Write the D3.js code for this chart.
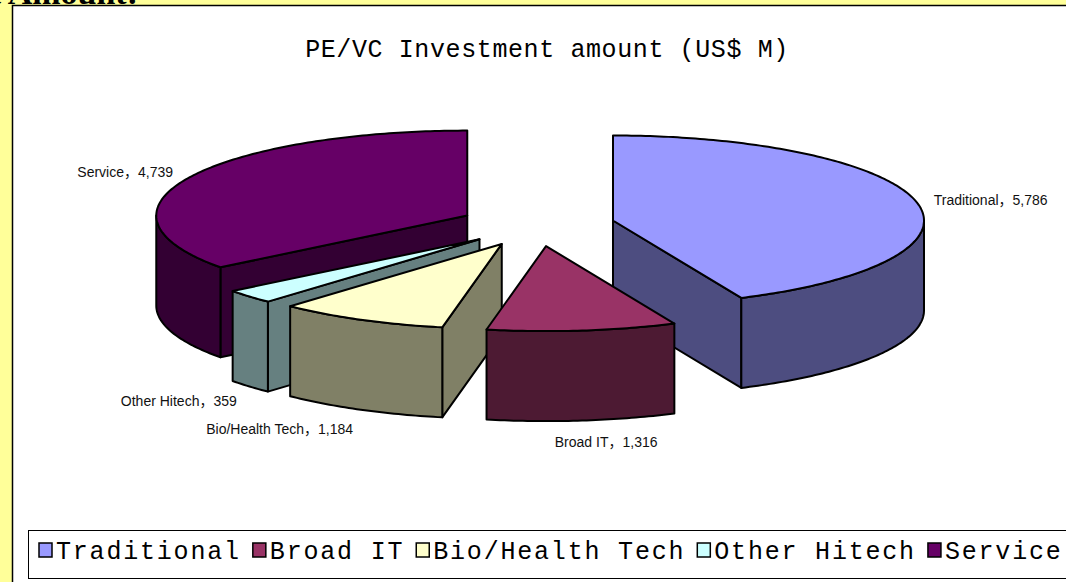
<!DOCTYPE html>
<html>
<head>
<meta charset="utf-8">
<script src="https://cdn.jsdelivr.net/npm/d3@7"></script>
<style>
  html, body { margin: 0; padding: 0; background: #FFFF99; overflow: hidden; }
  svg { display: block; }
</style>
</head>
<body>
<div id="chart"></div>
<script>
// Chart data
const categories = ["Traditional", "Broad IT", "Bio/Health Tech", "Other Hitech", "Service"];
const values = [5786, 1316, 1184, 359, 4739];
const topColors = ["#9999FF", "#993366", "#FFFFCC", "#CCFFFF", "#660066"];
const sideColors = ["#4D4D80", "#4D1A33", "#808066", "#668080", "#330033"];
const titleText = "PE/VC Investment amount (US$ M)";

const width = 1066, height = 582;

const svg = d3.select("#chart").append("svg")
  .attr("width", width)
  .attr("height", height);

// yellow slide background + white chart area
svg.append("rect").attr("width", width).attr("height", height).attr("fill", "#FFFF99");

// slide heading, only its lower edge peeks in at the top
svg.append("text")
  .attr("x", 138).attr("y", 4)
  .attr("text-anchor", "end")
  .style("font-family", "'Liberation Serif', serif")
  .style("font-weight", "bold")
  .style("font-size", "34px")
  .attr("fill", "#000")
  .text("Investment Amount:");

svg.append("rect")
  .attr("x", 12.5).attr("y", 5.5)
  .attr("width", width).attr("height", height)
  .attr("fill", "#fff")
  .attr("stroke", "#000")
  .attr("stroke-width", 1.5);

// title
svg.append("text")
  .attr("x", 547).attr("y", 57)
  .attr("text-anchor", "middle")
  .style("font-family", "'Liberation Mono', monospace")
  .style("font-size", "25px")
  .style("letter-spacing", "0.6px")
  .attr("fill", "#000")
  .text(titleText);

// --- 3D pie geometry ---
const cx = 537, cy = 225;   // pie centre
const rx = 311, ry = 85;    // ellipse radii of the tilted top
const depth = 90;           // thickness
const explode = 0.25;       // fraction of radius each slice is pulled out

const pie = d3.pie().sort(null).startAngle(0).endAngle(2 * Math.PI);
const arcs = pie(values).map((d, i) => {
  const mid = (d.startAngle + d.endAngle) / 2;
  return {
    ...d,
    i,
    mid,
    sx: cx + explode * rx * Math.sin(mid),
    sy: cy - explode * ry * Math.cos(mid),
  };
});

function rim(s, a, dy = 0) {
  return [s.sx + rx * Math.sin(a), s.sy - ry * Math.cos(a) + dy];
}
function arcPts(s, a0, a1, dy = 0) {
  const n = Math.max(2, Math.ceil(Math.abs(a1 - a0) / 0.015));
  return d3.range(n + 1).map(k => rim(s, a0 + (a1 - a0) * k / n, dy));
}
const line = d3.line().curve(d3.curveLinear);

function face(g, pts, fill) {
  g.append("path")
    .attr("d", line(pts) + "Z")
    .attr("fill", fill)
    .attr("stroke", "#000")
    .attr("stroke-width", 2)
    .attr("stroke-linejoin", "round");
}

// draw back slices first, front ones last
const order = d3.sort(arcs, d => -Math.cos(d.mid));
const slices = svg.append("g").attr("class", "slices");

order.forEach(s => {
  const g = slices.append("g");

  // radial cut faces that face the viewer
  [[s.startAngle, s.startAngle - Math.PI / 2], [s.endAngle, s.endAngle + Math.PI / 2]]
    .forEach(([a, n]) => {
      if (Math.cos(n) < -1e-6) {
        face(g, [[s.sx, s.sy], rim(s, a), rim(s, a, depth), [s.sx, s.sy + depth]], sideColors[s.i]);
      }
    });

  // outer curved wall (front half only)
  const lo = Math.max(s.startAngle, Math.PI / 2);
  const hi = Math.min(s.endAngle, 3 * Math.PI / 2);
  if (hi > lo) {
    face(g, arcPts(s, lo, hi).concat(arcPts(s, hi, lo, depth)), sideColors[s.i]);
  }

  // top face
  face(g, [[s.sx, s.sy]].concat(arcPts(s, s.startAngle, s.endAngle)), topColors[s.i]);
});

// data labels placed outside each slice
const fmt = d3.format(",");
svg.append("g").selectAll("text")
  .data(arcs)
  .join("text")
  .attr("x", d => {
    const sn = Math.sin(d.mid);
    return d.sx + 1.055 * rx * sn + (Math.abs(sn) < 0.2 ? 22 : 0);
  })
  .attr("y", d => {
    const c = Math.cos(d.mid);
    const front = c < 0;
    return d.sy - (front ? 1.26 : 1.15) * ry * c + (front ? depth : 0) + 5;
  })
  .attr("text-anchor", d => {
    const sn = Math.sin(d.mid);
    return sn < -0.2 ? "end" : sn > 0.2 ? "start" : "middle";
  })
  .style("font-family", "'Liberation Sans', Arial, 'Noto Sans CJK SC', sans-serif")
  .style("font-size", "14px")
  .attr("fill", "#111")
  .text(d => `${categories[d.i]}\uFF0C${fmt(d.data)}`);

// legend
const legend = svg.append("g").attr("class", "legend");
legend.append("rect")
  .attr("x", 28.5).attr("y", 530.5)
  .attr("width", 1100).attr("height", 48)
  .attr("fill", "#fff")
  .attr("stroke", "#000")
  .attr("stroke-width", 1);

let lx = 39;
categories.forEach((name, i) => {
  legend.append("rect")
    .attr("x", lx).attr("y", 543)
    .attr("width", 13).attr("height", 14)
    .attr("fill", topColors[i])
    .attr("stroke", "#000")
    .attr("stroke-width", 1.5);
  const t = legend.append("text")
    .attr("x", lx + 17).attr("y", 559)
    .style("font-family", "'Liberation Mono', monospace")
    .style("font-size", "25px")
    .style("letter-spacing", "1.8px")
    .attr("fill", "#000")
    .text(name);
  lx += 17 + t.node().getComputedTextLength() + 12;
});
</script>
</body>
</html>
